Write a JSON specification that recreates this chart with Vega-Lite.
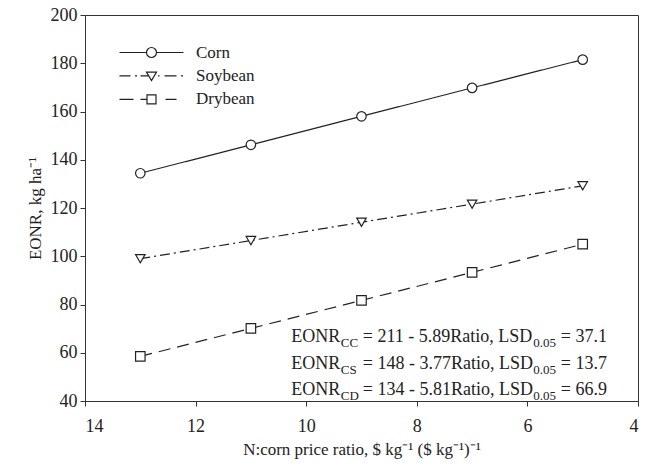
{
  "$schema": "https://vega.github.io/schema/vega-lite/v6.json",
  "width": 553,
  "height": 386,
  "autosize": {"type": "none"},
  "padding": {"left": 85, "top": 15, "right": 14, "bottom": 69},
  "background": "white",
  "config": {
    "font": "Liberation Serif",
    "view": {"stroke": "#333", "strokeWidth": 1},
    "axis": {
      "grid": false,
      "domainColor": "#333",
      "tickColor": "#333",
      "labelColor": "#222",
      "titleColor": "#222",
      "labelFont": "Liberation Serif",
      "titleFont": "Liberation Serif",
      "labelFontSize": 18,
      "titleFontSize": 17,
      "titleFontWeight": "normal",
      "tickSize": 5
    },
    "legend": {
      "orient": "none",
      "legendX": 26,
      "legendY": 29,
      "padding": 0,
      "labelFont": "Liberation Serif",
      "labelFontSize": 17,
      "labelColor": "#222",
      "symbolSize": 100,
      "symbolStrokeWidth": 1.2,
      "symbolStrokeColor": "#222",
      "symbolOffset": 32,
      "labelOffset": 36,
      "rowPadding": 5.4
    }
  },
  "datasets": {
    "eonr": [
      {"crop": "Corn", "ratio": 13, "eonr": 134.4},
      {"crop": "Corn", "ratio": 11, "eonr": 146.2},
      {"crop": "Corn", "ratio": 9, "eonr": 158.0},
      {"crop": "Corn", "ratio": 7, "eonr": 169.8},
      {"crop": "Corn", "ratio": 5, "eonr": 181.5},
      {"crop": "Soybean", "ratio": 13, "eonr": 99.0},
      {"crop": "Soybean", "ratio": 11, "eonr": 106.5},
      {"crop": "Soybean", "ratio": 9, "eonr": 114.1},
      {"crop": "Soybean", "ratio": 7, "eonr": 121.6},
      {"crop": "Soybean", "ratio": 5, "eonr": 129.2},
      {"crop": "Drybean", "ratio": 13, "eonr": 58.5},
      {"crop": "Drybean", "ratio": 11, "eonr": 70.1},
      {"crop": "Drybean", "ratio": 9, "eonr": 81.7},
      {"crop": "Drybean", "ratio": 7, "eonr": 93.3},
      {"crop": "Drybean", "ratio": 5, "eonr": 105.0}
    ],
    "eq": [
      {"sub": "CC", "eq": "= 211 - 5.89Ratio, LSD", "lsd": "= 37.1", "ratio": 10.27, "eonr": 64.6},
      {"sub": "CS", "eq": "= 148 - 3.77Ratio, LSD", "lsd": "= 13.7", "ratio": 10.27, "eonr": 53.3},
      {"sub": "CD", "eq": "= 134 - 5.81Ratio, LSD", "lsd": "= 66.9", "ratio": 10.27, "eonr": 42.3}
    ]
  },
  "layer": [
    {
      "data": {"name": "eonr"},
      "mark": {"type": "line", "color": "#222", "strokeWidth": 1.2},
      "encoding": {
        "x": {
          "field": "ratio", "type": "quantitative",
          "scale": {"domain": [4, 14], "reverse": true, "nice": false},
          "axis": {"values": [4, 6, 8, 10, 12, 14], "title": "N:corn price ratio, $ kg⁻¹ ($ kg⁻¹)⁻¹", "labelPadding": 11, "titlePadding": 6}
        },
        "y": {
          "field": "eonr", "type": "quantitative",
          "scale": {"domain": [40, 200], "nice": false},
          "axis": {"values": [40, 60, 80, 100, 120, 140, 160, 180, 200], "title": "EONR, kg ha⁻¹", "labelPadding": 3, "titlePadding": 6}
        },
        "detail": {"field": "crop"},
        "strokeDash": {
          "field": "crop", "type": "nominal",
          "scale": {"domain": ["Corn", "Soybean", "Drybean"], "range": [[1, 0], [10, 4, 2, 4], [12, 7]]},
          "legend": null
        }
      }
    },
    {
      "data": {"name": "eonr"},
      "mark": {"type": "point", "filled": true, "fill": "white", "stroke": "#222", "strokeWidth": 1.2, "size": 90, "opacity": 1},
      "encoding": {
        "x": {"field": "ratio", "type": "quantitative"},
        "y": {"field": "eonr", "type": "quantitative"},
        "shape": {
          "field": "crop", "type": "nominal",
          "scale": {"domain": ["Corn", "Soybean", "Drybean"], "range": ["circle", "triangle-down", "square"]},
          "legend": null
        }
      }
    },
    {
      "data": {"name": "eonr"},
      "transform": [{"filter": "false"}],
      "mark": {"type": "point", "filled": false, "color": "#222", "strokeWidth": 1.2, "opacity": 1},
      "encoding": {
        "x": {"field": "ratio", "type": "quantitative"},
        "y": {"field": "eonr", "type": "quantitative"},
        "shape": {
          "field": "crop", "type": "nominal",
          "scale": {
            "domain": ["Corn", "Soybean", "Drybean"],
            "range": [
              "M-6.4,0H-1M1,0H6.4M1,0A1,1,0,1,1,-1,0A1,1,0,1,1,1,0Z",
              "M-6.4,0H-4.2M-3.3,0H-2.9M-2.2,0H-0.55M-1,-0.75L1,-0.75L0,0.95ZM1.3,0H1.6M2.6,0H5M5.9,0H6.3",
              "M-6.4,0H-3.6M-2.2,0H-0.9M-0.9,-0.9H0.9V0.9H-0.9ZM2.8,0H5"
            ]
          },
          "legend": {"title": null}
        }
      }
    },
    {
      "data": {"name": "eq"},
      "mark": {"type": "text", "text": "EONR", "align": "left", "baseline": "alphabetic", "fontSize": 18, "color": "#222"},
      "encoding": {
        "x": {"field": "ratio", "type": "quantitative"},
        "y": {"field": "eonr", "type": "quantitative"}
      }
    },
    {
      "data": {"name": "eq"},
      "mark": {"type": "text", "align": "left", "baseline": "alphabetic", "fontSize": 13, "dx": 49.5, "dy": 5, "color": "#222"},
      "encoding": {
        "x": {"field": "ratio", "type": "quantitative"},
        "y": {"field": "eonr", "type": "quantitative"},
        "text": {"field": "sub"}
      }
    },
    {
      "data": {"name": "eq"},
      "mark": {"type": "text", "align": "left", "baseline": "alphabetic", "fontSize": 18, "dx": 71.5, "color": "#222"},
      "encoding": {
        "x": {"field": "ratio", "type": "quantitative"},
        "y": {"field": "eonr", "type": "quantitative"},
        "text": {"field": "eq"}
      }
    },
    {
      "data": {"name": "eq"},
      "mark": {"type": "text", "text": "0.05", "align": "left", "baseline": "alphabetic", "fontSize": 13, "dx": 242, "dy": 5, "color": "#222"},
      "encoding": {
        "x": {"field": "ratio", "type": "quantitative"},
        "y": {"field": "eonr", "type": "quantitative"}
      }
    },
    {
      "data": {"name": "eq"},
      "mark": {"type": "text", "align": "left", "baseline": "alphabetic", "fontSize": 18, "dx": 269.5, "color": "#222"},
      "encoding": {
        "x": {"field": "ratio", "type": "quantitative"},
        "y": {"field": "eonr", "type": "quantitative"},
        "text": {"field": "lsd"}
      }
    }
  ],
  "resolve": {"scale": {"shape": "independent"}}
}
